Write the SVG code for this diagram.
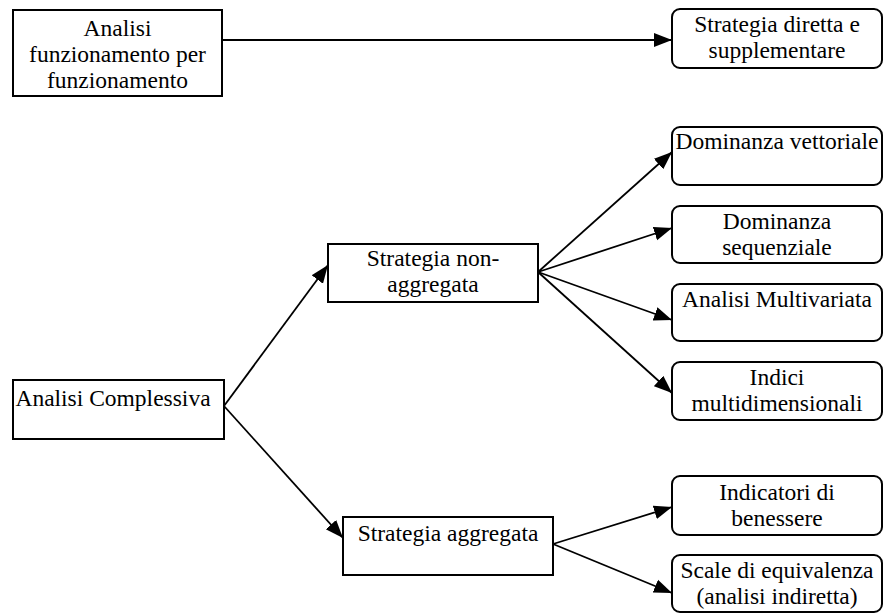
<svg xmlns="http://www.w3.org/2000/svg" width="884" height="613" viewBox="0 0 884 613">
<style>
.box{fill:#fff;stroke:#000;stroke-width:2}
.c{stroke:#000;stroke-width:1.8;fill:none;marker-end:url(#ah)}
</style>
<defs>
<marker id="ah" markerUnits="userSpaceOnUse" markerWidth="20" markerHeight="16" refX="18" refY="8" orient="auto">
<path d="M0,1 L18,8 L0,15 z" fill="#000"/>
</marker>
</defs>
<rect width="884" height="613" fill="#fff"/>
<g id="connectors">
<line class="c" x1="222" y1="40" x2="672" y2="40"/>
<line class="c" x1="224" y1="406" x2="328" y2="265"/>
<line class="c" x1="224" y1="406" x2="343" y2="538"/>
<line class="c" x1="538" y1="272" x2="672" y2="152"/>
<line class="c" x1="538" y1="272" x2="672" y2="228"/>
<line class="c" x1="538" y1="272" x2="672" y2="320"/>
<line class="c" x1="538" y1="272" x2="672" y2="393"/>
<line class="c" x1="553" y1="544" x2="672" y2="507"/>
<line class="c" x1="553" y1="544" x2="672" y2="593"/>
</g>
<g font-family="Liberation Serif, Times New Roman, DejaVu Serif, serif" font-size="23.5" fill="#000" text-anchor="middle">
<g id="n1"><rect class="box" x="13" y="10" width="209" height="86"/>
<text x="117.5" y="36">Analisi</text><text x="117.5" y="62">funzionamento per</text><text x="117.5" y="88">funzionamento</text></g>
<g id="n2"><rect class="box" x="672" y="9" width="210" height="59" rx="8"/>
<text x="777" y="32">Strategia diretta e</text><text x="777" y="58">supplementare</text></g>
<g id="n3"><rect class="box" x="13" y="380" width="211" height="59"/>
<text x="113" y="406">Analisi Complessiva</text></g>
<g id="n4"><rect class="box" x="328" y="244" width="210" height="58"/>
<text x="433" y="266">Strategia non-</text><text x="433" y="292">aggregata</text></g>
<g id="n5"><rect class="box" x="343" y="517" width="210" height="58"/>
<text x="448" y="541">Strategia aggregata</text></g>
<g id="n6"><rect class="box" x="672" y="127" width="210" height="58" rx="8"/>
<text x="777" y="149">Dominanza vettoriale</text></g>
<g id="n7"><rect class="box" x="672" y="206" width="210" height="57" rx="8"/>
<text x="777" y="229">Dominanza</text><text x="777" y="255">sequenziale</text></g>
<g id="n8"><rect class="box" x="672" y="284" width="210" height="57" rx="8"/>
<text x="777" y="307">Analisi Multivariata</text></g>
<g id="n9"><rect class="box" x="672" y="362" width="210" height="58" rx="8"/>
<text x="777" y="385">Indici</text><text x="777" y="411">multidimensionali</text></g>
<g id="n10"><rect class="box" x="672" y="476" width="210" height="59" rx="8"/>
<text x="777" y="500">Indicatori di</text><text x="777" y="526">benessere</text></g>
<g id="n11"><rect class="box" x="672" y="555" width="210" height="57" rx="8"/>
<text x="777" y="578">Scale di equivalenza</text><text x="777" y="604">(analisi indiretta)</text></g>
</g>
</svg>
